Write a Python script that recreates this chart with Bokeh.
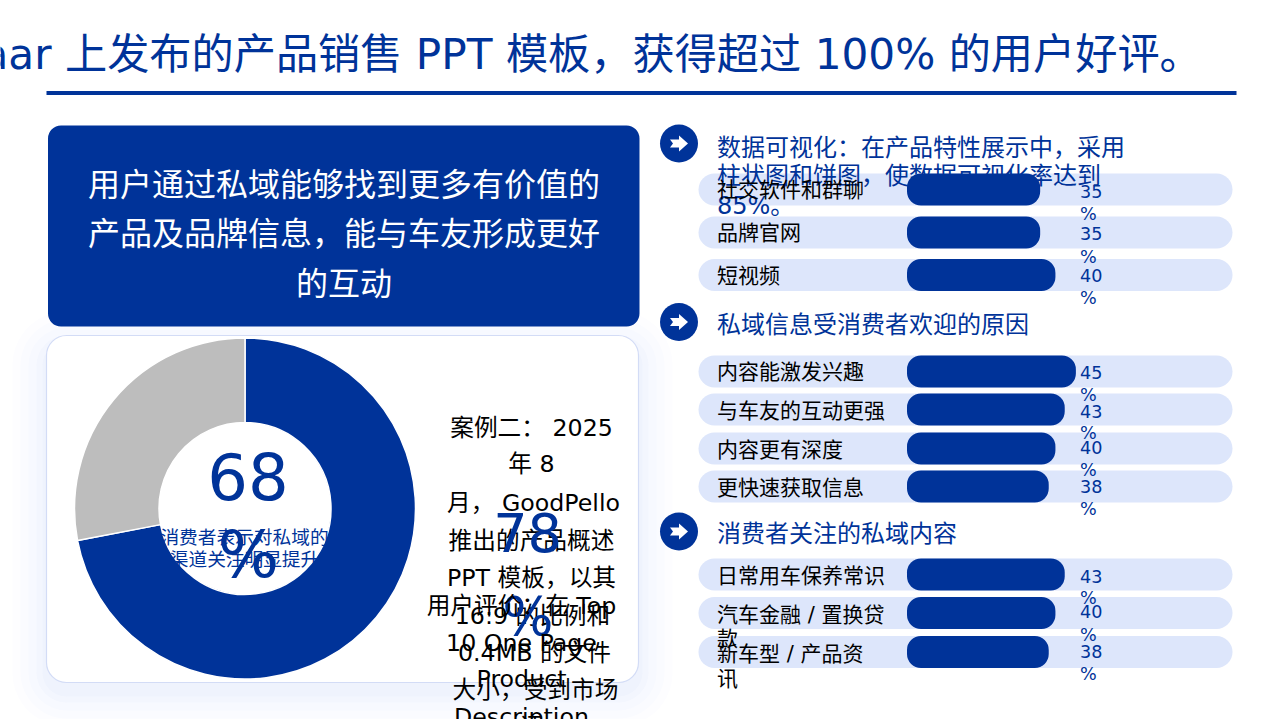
from bokeh.plotting import figure
from bokeh.models import Range1d
from bokeh.core.properties import value
from bokeh.embed import file_html
from bokeh.resources import INLINE
import math

# ---------- data ----------
title_text = "aar 上发布的产品销售 PPT 模板，获得超过 100% 的用户好评。"
callout_lines = ["用户通过私域能够找到更多有价值的", "产品及品牌信息，能与车友形成更好", "的互动"]
donut_labels = ["关注", "其他"]
donut_values = [72, 28]
donut_colors = ["#003399", "#bdbdbd"]

sec1_heading = ["数据可视化：在产品特性展示中，采用", "柱状图和饼图，使数据可视化率达到", "85%。"]
sec2_heading = ["私域信息受消费者欢迎的原因"]
sec3_heading = ["消费者关注的私域内容"]

bar_names = ["社交软件和群聊", "品牌官网", "短视频",
             "内容能激发兴趣", "与车友的互动更强", "内容更有深度", "更快速获取信息",
             "日常用车保养常识", "汽车金融 / 置换贷\n款", "新车型 / 产品资\n讯"]
bar_values = [35, 35, 40, 45, 43, 40, 38, 43, 40, 38]
# drawn lengths (the page's bars do not scale exactly)
bar_drawn = [35.8, 35.8, 39.9, 45.4, 42.4, 39.9, 38.1, 42.4, 39.9, 38.1]

big1 = "68"
big1_note = ["消费者表示对私域的", "渠道关注明显提升"]
big2 = "78"
case_lines = ["案例二： 2025", "年 8", "月， GoodPello", "推出的产品概述", "PPT 模板，以其", "16:9 的比例和", "0.4MB 的文件", "大小，受到市场", "评"]
review_lines = ["用户评价：在 Top", "10 One Page", "Product", "Description"]

# ---------- layout constants (page pixels) ----------
BLUE = "#003399"
TRACK = "#dde6fb"
FONT = value("DejaVu Sans, Noto Sans CJK SC")
W, H = 1280, 719

p = figure(width=W, height=H, output_backend="svg", toolbar_location=None,
           x_range=Range1d(0, W), y_range=Range1d(H, 0),
           min_border=0, outline_line_color=None)
p.axis.visible = False
p.grid.visible = False
p.background_fill_color = "white"
p.border_fill_color = "white"

PX_PER_PCT = 3.72
BAR_X0 = 906.5
p.extra_x_ranges["pct"] = Range1d(-BAR_X0 / PX_PER_PCT, (W - BAR_X0) / PX_PER_PCT)


def label(x, y, txt, size, color, align="left"):
    p.text([x], [y], text=[txt], text_font=FONT, text_font_size=f"{size}px",
           text_color=color, text_align=align, text_baseline="middle")


# card shadow
for g, a in ((34, 0.012), (26, 0.014), (18, 0.016), (10, 0.018), (4, 0.02)):
    p.quad(left=[46 - g], right=[638 + g], top=[335 - g + 10], bottom=[682 + g + 10],
           fill_color="#3060e0", fill_alpha=a, line_color=None, border_radius=20 + g)
# donut card
p.quad(left=[46], right=[638], top=[335], bottom=[682], fill_color="white",
       line_color="#d3dcf6", line_width=1.2, border_radius=20)
# blue callout
p.quad(left=[47.5], right=[639], top=[125], bottom=[326], fill_color=BLUE, line_color=None, border_radius=13)
# title rule
p.quad(left=[46], right=[1236], top=[90.5], bottom=[94.5], fill_color=BLUE, line_color=None)

label(-18, 54, title_text, 42.2, BLUE)
for t, y in zip(callout_lines, (184, 233.5, 283.5)):
    label(343.5, y, t, 32, "white", "center")

# donut: clockwise from 12 o'clock (y axis is reversed on this page)
total = sum(donut_values)
start = 0.0
for v, c in zip(donut_values, donut_colors):
    end = start + v / total * 2 * math.pi
    p.annular_wedge(x=[244.5], y=[508], inner_radius=86, outer_radius=170.5,
                    inner_radius_units="screen", outer_radius_units="screen",
                    start_angle=[math.pi / 2 - end], end_angle=[math.pi / 2 - start],
                    fill_color=c, line_color="white", line_width=1.5)
    start = end

label(247.5, 475.5, big1, 64, BLUE, "center")
label(248, 554, "%", 64, BLUE, "center")
for t, y in zip(big1_note, (537, 559)):
    label(244, y, t, 18.7, BLUE, "center")

case_x = [531, 531, 533, 531, 531, 532, 534, 535, 531]
for t, x, y in zip(case_lines, case_x, (427, 463.5, 502, 540, 577, 615, 652, 689, 726)):
    label(x, y, t, 23.7, "black", "center")
label(527, 532, big2, 54, BLUE, "center")
label(527.5, 616, "%", 54, BLUE, "center")
for t, y in zip(review_lines, (605, 642, 678, 716.5)):
    label(521, y, t, 23.7, "black", "center")

# bars: tracks sit under the headings, the fills over them
row_y = [189, 232, 274.5, 371, 409, 448, 486, 574, 612.5, 651.5]
name_y = [189.5, 232.5, 275.5, 371.5, 410, 449, 487, 575, 614.5, 653]
name_y2 = {8: 638, 9: 678}
val_y = [(191, 213), (233, 256), (275, 297), (372, 394), (411, 432), (447, 469), (486, 508), (576, 597), (611, 634), (651, 673)]

p.hbar(y=row_y, left=[698] * 10, right=[1232] * 10, height=32, fill_color=TRACK,
       line_color=None, border_radius=16)

# section heads
ARROW_X = [-9, -6, -9, 0, 0, 9, 0, 0]
ARROW_Y = [-4, 0, 4, 4, 8, 0, -8, -4]
for cy, lines, ys in ((143, sec1_heading, (147, 175.5, 205)),
                      (321.5, sec2_heading, (324.5,)),
                      (531, sec3_heading, (533.5,))):
    p.circle(x=[678.5], y=[cy], radius=19, radius_units="screen", fill_color=BLUE, line_color=None)
    p.patch([678.5 + dx for dx in ARROW_X], [cy + dy for dy in ARROW_Y], fill_color="white", line_color=None)
    for t, y in zip(lines, ys):
        label(716.5, y, t, 24, BLUE)

p.hbar(y=row_y, left=[0] * 10, right=bar_drawn, height=32, fill_color=BLUE, line_color=None,
       border_radius=14, x_range_name="pct")

for i, (n, v) in enumerate(zip(bar_names, bar_values)):
    parts = n.split("\n")
    label(716.5, name_y[i], parts[0], 21, "black")
    if len(parts) > 1:
        label(716.5, name_y2[i], parts[1], 21, "black")
    label(1079.5, val_y[i][0], str(v), 17.6, BLUE)
    label(1079.5, val_y[i][1], "%", 17.6, BLUE)

open("out.html", "w").write(file_html(p, INLINE))
